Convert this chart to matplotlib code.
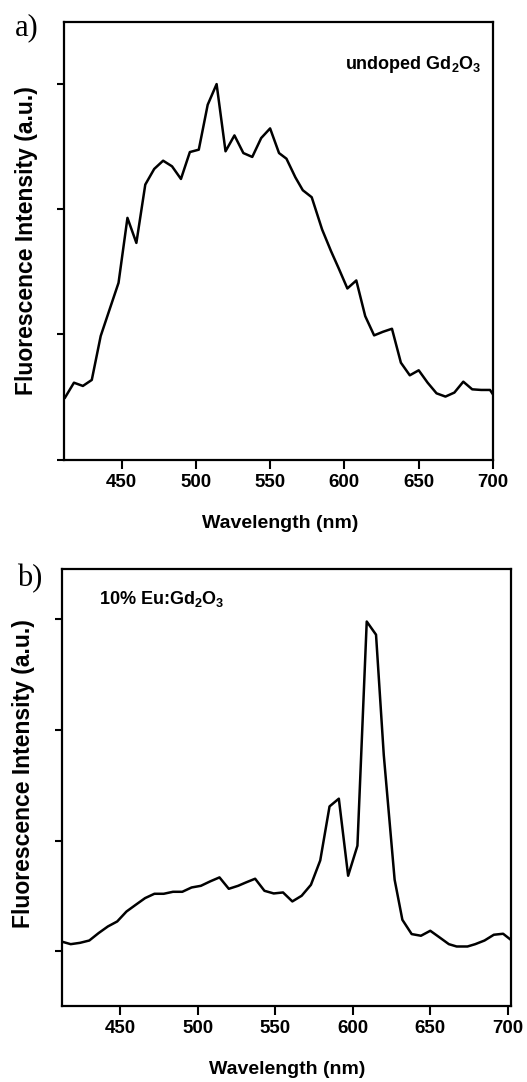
import matplotlib
matplotlib.use("Agg")
import matplotlib.pyplot as plt

# emission spectra, intensities in arbitrary units (peak normalised to 3)
wl_undoped = [412, 418, 424, 430, 436, 442, 448, 454, 460, 466, 472, 478, 484,
              490, 496, 502, 508, 514, 520, 526, 532, 538, 544, 550, 556, 561,
              567, 572, 578, 585, 591, 596, 602, 608, 614, 620, 626, 632, 638,
              644, 650, 656, 662, 668, 674, 680, 686, 692, 698, 700]
int_undoped = [0.495, 0.614, 0.588, 0.636, 0.987, 1.20, 1.412, 1.931, 1.731,
               2.197, 2.322, 2.388, 2.343, 2.242, 2.457, 2.476, 2.835, 3.00,
               2.463, 2.590, 2.449, 2.418, 2.569, 2.646, 2.449, 2.404, 2.255,
               2.152, 2.096, 1.838, 1.665, 1.532, 1.367, 1.431, 1.146, 0.992,
               1.021, 1.045, 0.774, 0.673, 0.713, 0.614, 0.529, 0.503, 0.535,
               0.622, 0.561, 0.556, 0.556, 0.52]

wl_eu = [412, 418, 424, 430, 436, 442, 448, 454, 460, 466, 472, 478, 484, 490,
         496, 502, 508, 514, 520, 526, 531, 537, 543, 549, 555, 561, 567, 573,
         579, 585, 591, 597, 603, 609, 615, 620, 627, 632, 638, 644, 650, 656,
         662, 667, 674, 679, 685, 691, 697, 702]
int_eu = [0.090, 0.066, 0.078, 0.099, 0.166, 0.226, 0.271, 0.361, 0.422, 0.482,
          0.521, 0.521, 0.539, 0.539, 0.578, 0.593, 0.633, 0.669, 0.566, 0.593,
          0.623, 0.657, 0.548, 0.524, 0.533, 0.452, 0.503, 0.602, 0.822, 1.310,
          1.380, 0.684, 0.955, 2.98, 2.861, 1.774, 0.648, 0.286, 0.157, 0.142,
          0.187, 0.127, 0.066, 0.045, 0.045, 0.066, 0.099, 0.151, 0.160, 0.105]

xticks = [450, 500, 550, 600, 650, 700]
yticks = [0, 1, 2, 3]

SANS = ["Liberation Sans", "DejaVu Sans"]
SERIF = ["Liberation Serif", "DejaVu Serif"]

fig = plt.figure(figsize=(5.27, 10.82), dpi=100)
ax_a = fig.add_axes([0.122, 0.5753, 0.8135, 0.4048])
ax_b = fig.add_axes([0.1171, 0.0707, 0.8520, 0.4037])


def style_axes(ax, xlim, ylim, label_y):
    ax.set_xlim(*xlim)
    ax.set_ylim(*ylim)
    ax.set_xticks(xticks)
    ax.set_yticks(yticks)
    ax.set_yticklabels([])
    for sp in ax.spines.values():
        sp.set_linewidth(1.6)
    ax.tick_params(axis="both", direction="out", width=1.5, color="black")
    ax.tick_params(axis="x", length=6.5, pad=4)
    ax.tick_params(axis="y", length=5)
    for lab in ax.get_xticklabels():
        lab.set_fontfamily(SANS)
        lab.set_fontweight("bold")
        lab.set_fontsize(13.5)
    ax.set_xlabel("Wavelength (nm)", family=SANS, fontweight="bold", fontsize=14)
    ax.xaxis.set_label_coords(0.503, label_y)
    ax.xaxis.label.set_va("top")
    ax.set_ylabel("Fluorescence Intensity (a.u.)", family=SANS,
                  fontweight="bold", fontsize=16.5)


# a) undoped
ax_a.plot(wl_undoped, int_undoped, color="black", lw=1.8)
style_axes(ax_a, (411.5, 700), (0, 3.5), -0.126)
ax_a.yaxis.set_label_coords(-0.062, 0.5)
ax_a.text(0.655, 0.892, r"undoped Gd$\mathregular{_2}$O$\mathregular{_3}$",
          transform=ax_a.transAxes, family=SANS, fontweight="bold",
          fontsize=13, va="baseline", ha="left")

# b) Eu doped
ax_b.plot(wl_eu, int_eu, color="black", lw=1.8)
style_axes(ax_b, (412.2, 701.9), (-0.488, 3.457), -0.128)
ax_b.yaxis.set_label_coords(-0.060, 0.53)
ax_b.text(0.083, 0.920, r"10% Eu:Gd$\mathregular{_2}$O$\mathregular{_3}$",
          transform=ax_b.transAxes, family=SANS, fontweight="bold",
          fontsize=13, va="baseline", ha="left")

fig.text(15 / 527, 1 - 35 / 1082, "a)", family=SERIF,
         fontsize=22, va="baseline", ha="left")
fig.text(17 / 527, 1 - 586 / 1082, "b)", family=SERIF,
         fontsize=22, va="baseline", ha="left")

fig.savefig("out.png", dpi=100)
